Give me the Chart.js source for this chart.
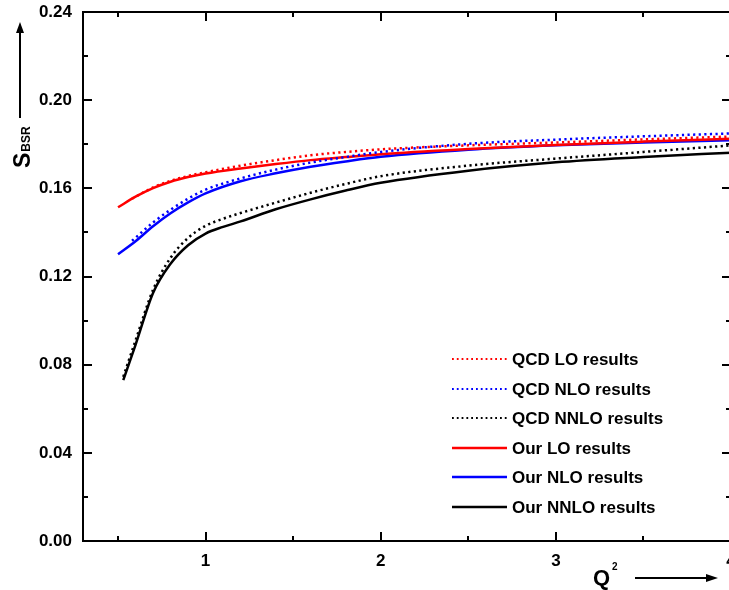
<!DOCTYPE html>
<html>
<head>
<meta charset="utf-8">
<script src="https://cdn.jsdelivr.net/npm/chart.js@4/dist/chart.umd.min.js"></script>
<style>
  html, body { margin: 0; padding: 0; background: #fff; overflow: hidden; }
  #wrap { width: 729px; height: 590px; overflow: hidden; }
</style>
</head>
<body>
<div id="wrap"><canvas id="sbsr" width="745" height="590"></canvas></div>
<script>
// Q^2 values for each curve
const qOur = [0.5, 0.6, 0.7, 0.8, 0.9, 1.0, 1.2, 1.4, 1.6, 1.8, 2.0, 2.5, 3.0, 3.5, 4.0];
const qQcd = [0.58, 0.7, 0.8, 0.9, 1.0, 1.2, 1.4, 1.6, 1.8, 2.0, 2.5, 3.0, 3.5, 4.0];
const qNnlo = [0.53, 0.6, 0.7, 0.8, 0.9, 1.0, 1.1, 1.2, 1.4, 1.6, 1.8, 2.0, 2.5, 3.0, 3.5, 4.0];

// S_BSR values
const qcdLO = [0.1553, 0.1604, 0.1634, 0.1656, 0.1673, 0.1703, 0.1728, 0.1750, 0.1765, 0.1777, 0.1795, 0.1808, 0.1822, 0.1835];
const qcdNLO = [0.1362, 0.1445, 0.1503, 0.1553, 0.1594, 0.1645, 0.1685, 0.1717, 0.1742, 0.1765, 0.1802, 0.1821, 0.1836, 0.1849];
const qcdNNLO = [0.0745, 0.0910, 0.1140, 0.1285, 0.1375, 0.1430, 0.1462, 0.1488, 0.1535, 0.1580, 0.1620, 0.1655, 0.1703, 0.1735, 0.1765, 0.1795];
const ourLO = [0.1514, 0.1562, 0.1601, 0.1630, 0.1651, 0.1667, 0.1690, 0.1710, 0.1728, 0.1742, 0.1755, 0.1778, 0.1797, 0.1812, 0.1825];
const ourNLO = [0.1301, 0.1360, 0.1428, 0.1487, 0.1536, 0.1577, 0.1632, 0.1668, 0.1698, 0.1722, 0.1743, 0.1775, 0.1795, 0.1808, 0.1818];
const ourNNLO = [0.0730, 0.0890, 0.1125, 0.1258, 0.1342, 0.1395, 0.1425, 0.1450, 0.1505, 0.1550, 0.1590, 0.1625, 0.1680, 0.1718, 0.1742, 0.1762];

const xMajor = [1, 2, 3, 4];
const xMinor = [0.5, 1.5, 2.5, 3.5];
const yMajor = [0, 0.04, 0.08, 0.12, 0.16, 0.20, 0.24];
const yMinor = [0.02, 0.06, 0.10, 0.14, 0.18, 0.22];

const FONT = "'Liberation Sans', Arial, sans-serif";

function pts(xs, ys) {
  return xs.map((x, i) => ({x: x, y: ys[i]}));
}

function series(label, xs, ys, color, dotted) {
  return {
    label: label,
    data: pts(xs, ys),
    borderColor: color,
    borderWidth: 2.5,
    borderDash: dotted ? [2.2, 3.4] : [],
    pointRadius: 0,
    fill: false,
    cubicInterpolationMode: 'monotone',
    order: dotted ? 0 : 1
  };
}

// frame with inward ticks on all four sides
const framePlugin = {
  id: 'frame',
  afterDatasetsDraw(chart) {
    const {ctx, chartArea: a, scales: {x, y}} = chart;
    ctx.save();
    ctx.strokeStyle = '#000';
    ctx.lineWidth = 2;
    ctx.strokeRect(a.left, a.top, a.right - a.left, a.bottom - a.top);
    const tick = (vals, len) => {
      vals.forEach(v => {
        const px = Math.round(x.getPixelForValue(v));
        ctx.beginPath();
        ctx.moveTo(px, a.bottom); ctx.lineTo(px, a.bottom - len);
        ctx.moveTo(px, a.top); ctx.lineTo(px, a.top + len);
        ctx.stroke();
      });
    };
    const ytick = (vals, len) => {
      vals.forEach(v => {
        const py = Math.round(y.getPixelForValue(v));
        ctx.beginPath();
        ctx.moveTo(a.left, py); ctx.lineTo(a.left + len, py);
        ctx.moveTo(a.right, py); ctx.lineTo(a.right - len, py);
        ctx.stroke();
      });
    };
    tick(xMajor, 9); tick(xMinor, 5);
    ytick(yMajor, 9); ytick(yMinor, 5);
    ctx.restore();
  }
};

// legend inside the plot, lower right
const legendPlugin = {
  id: 'insideLegend',
  afterDraw(chart) {
    const ctx = chart.ctx;
    const x0 = 452, x1 = 507, tx = 512, y0 = 359, step = 29.6;
    ctx.save();
    ctx.font = 'bold 17px ' + FONT;
    ctx.textBaseline = 'middle';
    ctx.fillStyle = '#000';
    chart.data.datasets.forEach((ds, i) => {
      const yy = Math.round(y0 + i * step);
      ctx.beginPath();
      ctx.strokeStyle = ds.borderColor;
      ctx.lineWidth = ds.borderDash.length ? 2 : 2.5;
      ctx.setLineDash(ds.borderDash.length ? [1.8, 3] : []);
      ctx.moveTo(x0, yy); ctx.lineTo(x1, yy);
      ctx.stroke();
      ctx.fillText(ds.label, tx, yy + 1);
    });
    ctx.restore();
  }
};

// axis titles with arrows
const titlePlugin = {
  id: 'axisTitles',
  afterDraw(chart) {
    const ctx = chart.ctx;
    ctx.save();
    ctx.fillStyle = '#000';
    ctx.strokeStyle = '#000';
    // y title: S with subscript BSR, rotated
    ctx.save();
    ctx.translate(30, 168);
    ctx.rotate(-Math.PI / 2);
    ctx.textBaseline = 'alphabetic';
    ctx.font = 'bold 23px ' + FONT;
    ctx.fillText('S', 0, 0);
    const sw = ctx.measureText('S').width;
    ctx.font = 'bold 12px ' + FONT;
    ctx.fillText('BSR', sw + 1, 0);
    ctx.restore();
    // y arrow
    ctx.lineWidth = 2;
    ctx.beginPath();
    ctx.moveTo(20, 118); ctx.lineTo(20, 32);
    ctx.stroke();
    ctx.beginPath();
    ctx.moveTo(20, 22); ctx.lineTo(16, 33); ctx.lineTo(24, 33);
    ctx.closePath(); ctx.fill();
    // x title: Q^2
    ctx.textBaseline = 'alphabetic';
    ctx.font = 'bold 22px ' + FONT;
    ctx.fillText('Q', 593, 585);
    ctx.font = 'bold 10px ' + FONT;
    ctx.fillText('2', 612, 570);
    // x arrow
    ctx.beginPath();
    ctx.moveTo(635, 578); ctx.lineTo(707, 578);
    ctx.stroke();
    ctx.beginPath();
    ctx.moveTo(718, 578); ctx.lineTo(706, 574); ctx.lineTo(706, 582);
    ctx.closePath(); ctx.fill();
    ctx.restore();
  }
};

new Chart(document.getElementById('sbsr'), {
  type: 'line',
  data: {
    datasets: [
      series('QCD LO results', qQcd, qcdLO, '#ff0000', true),
      series('QCD NLO results', qQcd, qcdNLO, '#0000ff', true),
      series('QCD NNLO results', qNnlo, qcdNNLO, '#000000', true),
      series('Our LO results', qOur, ourLO, '#ff0000', false),
      series('Our NLO results', qOur, ourNLO, '#0000ff', false),
      series('Our NNLO results', qNnlo, ourNNLO, '#000000', false)
    ]
  },
  options: {
    responsive: false,
    animation: false,
    events: [],
    layout: {padding: {top: 12, right: 14, left: 0, bottom: 0}},
    plugins: {legend: {display: false}, tooltip: {enabled: false}},
    scales: {
      x: {
        type: 'linear',
        min: 0.3,
        max: 4,
        afterBuildTicks: s => { s.ticks = xMajor.map(v => ({value: v})); },
        afterFit: s => { s.height = 49; s.paddingLeft = 0; s.paddingRight = 0; },
        grid: {display: false, drawTicks: false},
        border: {display: false},
        ticks: {
          color: '#000',
          padding: 10,
          maxRotation: 0,
          font: {family: FONT, size: 17, weight: 'bold'},
          callback: v => String(v)
        }
      },
      y: {
        min: 0,
        max: 0.24,
        afterBuildTicks: s => { s.ticks = yMajor.map(v => ({value: v})); },
        afterFit: s => { s.width = 83; s.paddingTop = 0; s.paddingBottom = 0; },
        grid: {display: false, drawTicks: false},
        border: {display: false},
        ticks: {
          color: '#000',
          padding: 11,
          font: {family: FONT, size: 17, weight: 'bold'},
          callback: v => v.toFixed(2)
        }
      }
    }
  },
  plugins: [framePlugin, legendPlugin, titlePlugin]
});
</script>
</body>
</html>
